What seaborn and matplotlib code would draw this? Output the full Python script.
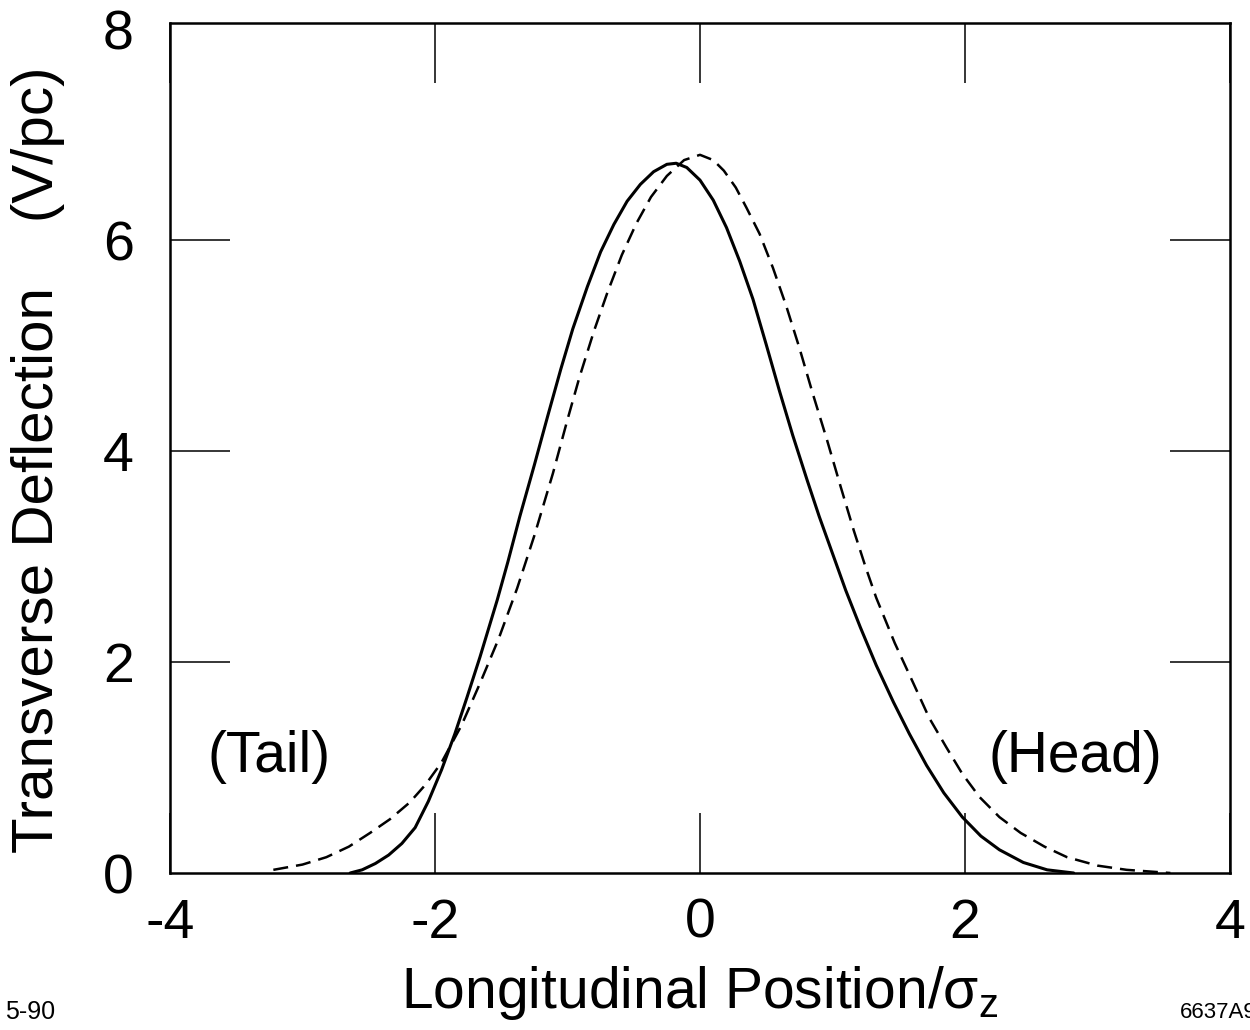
import numpy as np
import pandas as pd
import matplotlib
matplotlib.use("Agg")
import matplotlib.pyplot as plt
import seaborn as sns

# Solid curve
solid_x = [-2.64, -2.55, -2.45, -2.35, -2.25, -2.15, -2.05, -1.95, -1.85, -1.76,
           -1.66, -1.53, -1.45, -1.36, -1.25, -1.15, -1.05, -0.96, -0.85, -0.75,
           -0.65, -0.55, -0.45, -0.35, -0.25, -0.18, -0.10, 0.00, 0.10, 0.20,
           0.30, 0.40, 0.50, 0.60, 0.70, 0.81, 0.90, 1.00, 1.10, 1.21,
           1.33, 1.46, 1.58, 1.71, 1.84, 1.98, 2.12, 2.26, 2.44, 2.62, 2.82]
solid_y = [0.00, 0.03, 0.09, 0.17, 0.28, 0.43, 0.68, 0.98, 1.32, 1.66,
           2.05, 2.59, 2.95, 3.38, 3.87, 4.33, 4.78, 5.16, 5.56, 5.89,
           6.15, 6.37, 6.53, 6.65, 6.72, 6.73, 6.69, 6.57, 6.38, 6.12,
           5.80, 5.44, 5.01, 4.57, 4.15, 3.72, 3.38, 3.03, 2.68, 2.33,
           1.97, 1.62, 1.32, 1.02, 0.76, 0.53, 0.35, 0.22, 0.10, 0.03, 0.00]

# Dashed curve
dash_x = [-3.22, -3.00, -2.82, -2.65, -2.49, -2.34, -2.19, -2.07, -1.95, -1.80,
          -1.66, -1.52, -1.38, -1.25, -1.11, -1.00, -0.91, -0.80, -0.70, -0.59,
          -0.48, -0.37, -0.25, -0.12, 0.00, 0.10, 0.18, 0.27, 0.35, 0.45,
          0.55, 0.65, 0.75, 0.85, 0.96, 1.06, 1.16, 1.25, 1.33, 1.47,
          1.61, 1.73, 1.86, 1.98, 2.11, 2.26, 2.42, 2.60, 2.77, 3.00,
          3.22, 3.55]
dash_y = [0.03, 0.08, 0.15, 0.25, 0.38, 0.51, 0.67, 0.84, 1.05, 1.40,
          1.80, 2.22, 2.70, 3.20, 3.79, 4.30, 4.70, 5.14, 5.50, 5.86,
          6.16, 6.41, 6.61, 6.76, 6.81, 6.76, 6.66, 6.50, 6.31, 6.06,
          5.74, 5.38, 4.98, 4.55, 4.10, 3.67, 3.25, 2.90, 2.61, 2.18,
          1.80, 1.47, 1.19, 0.94, 0.72, 0.53, 0.38, 0.25, 0.15, 0.07,
          0.03, 0.00]

x_ticks = [-4, -2, 0, 2, 4]
y_ticks = [0, 2, 4, 6, 8]

sns.set_theme(style="white")
plt.rcParams['font.family'] = ['Liberation Sans', 'DejaVu Sans']
plt.rcParams['mathtext.fontset'] = 'custom'
plt.rcParams['mathtext.rm'] = 'Liberation Sans'
plt.rcParams['mathtext.it'] = 'Liberation Sans'
plt.rcParams['mathtext.bf'] = 'Liberation Sans:bold'

df = pd.concat([
    pd.DataFrame({"x": solid_x, "y": solid_y, "curve": "solid"}),
    pd.DataFrame({"x": dash_x, "y": dash_y, "curve": "dashed"}),
])

fig = plt.figure(figsize=(12.5, 10.3), dpi=100)
ax = fig.add_axes([170/1250, 1 - 873/1030, (1230-170)/1250, (873-23)/1030])

sns.lineplot(data=df[df.curve == "solid"], x="x", y="y", ax=ax, color="black",
             linewidth=2.2, sort=False, estimator=None)
sns.lineplot(data=df[df.curve == "dashed"], x="x", y="y", ax=ax, color="black",
             linewidth=1.8, sort=False, estimator=None)
ax.lines[-1].set_dashes((6.0, 3.2))
for ln in ax.lines:
    ln.set_solid_joinstyle("round")
    ln.set_dash_joinstyle("round")

ax.set_xlim(-4, 4)
ax.set_ylim(0, 8.06)
ax.set_xticks(x_ticks)
ax.set_yticks(y_ticks)
ax.set_xticklabels([str(t) for t in x_ticks])
ax.set_yticklabels([str(t) for t in y_ticks])
ax.tick_params(axis="both", direction="in", length=43, width=1.1, color="black",
               labelsize=40, top=True, right=True, bottom=True, left=True,
               labelcolor="black")
ax.tick_params(axis="x", pad=18)
ax.tick_params(axis="y", pad=26)
# hide tick marks that sit on the frame at y = 0 and y = 8
for tk in ax.yaxis.get_major_ticks():
    if tk.get_loc() in (0, 8):
        tk.tick1line.set_visible(False)
        tk.tick2line.set_visible(False)
for s in ax.spines.values():
    s.set_visible(True)
    s.set_color("black")
    s.set_linewidth(1.8)

ax.set_xlabel(r"Longitudinal Position/$\sigma_{\mathrm{z}}$", fontsize=41, labelpad=10, color="black")
ax.set_ylabel("Transverse Deflection    (V/pc)", fontsize=42, color="black")
ax.yaxis.set_label_coords(-0.099, 0.486)

ax.text(-3.25, 1.1, "(Tail)", fontsize=41, ha="center", va="center", color="black")
ax.text(2.83, 1.1, "(Head)", fontsize=41, ha="center", va="center", color="black")

fig.text(5/1250, 1 - 1012/1030, "5-90", fontsize=18, ha="left", va="center", color="black")
fig.text(1180/1250, 1 - 1012/1030, "6637A9", fontsize=16, ha="left", va="center", color="black")

fig.savefig("out.png", dpi=100, facecolor="white")
